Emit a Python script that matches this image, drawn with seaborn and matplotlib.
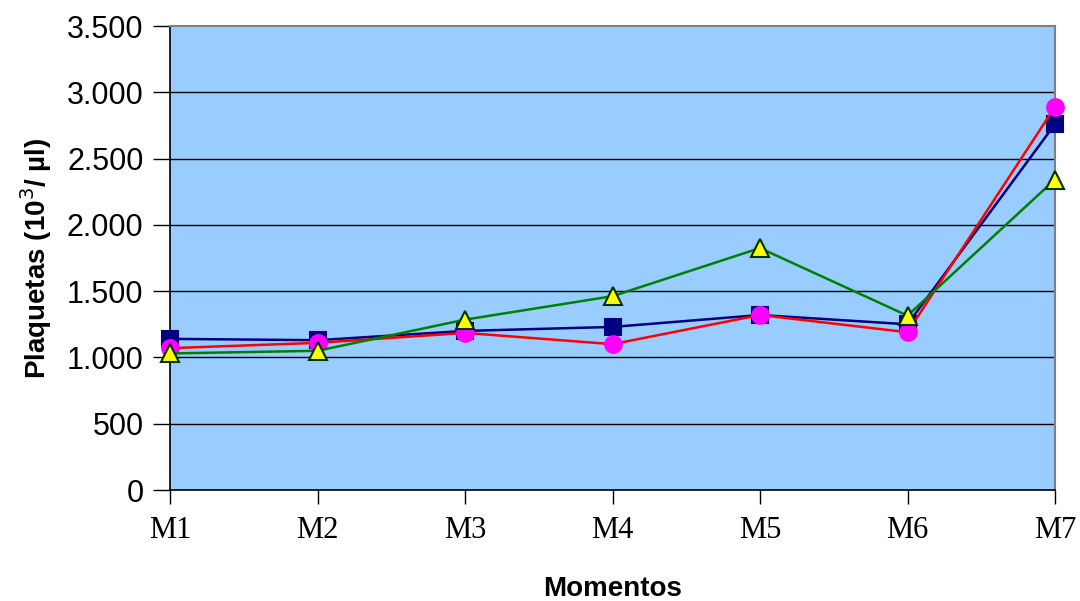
import matplotlib
matplotlib.use("Agg")
import matplotlib.pyplot as plt
import seaborn as sns
import pandas as pd
from matplotlib.ticker import FuncFormatter

# Platelet counts (10^3/µl) per moment for three groups
momentos = ["M1", "M2", "M3", "M4", "M5", "M6", "M7"]
grupo_a = [1140, 1130, 1200, 1230, 1320, 1250, 2760]   # navy squares
grupo_b = [1070, 1110, 1185, 1100, 1320, 1190, 2890]   # red line, magenta circles
grupo_c = [1030, 1050, 1285, 1462, 1825, 1315, 2342]   # green line, yellow triangles

y_ticks = [0, 500, 1000, 1500, 2000, 2500, 3000, 3500]

sns.set_theme(style="white")
plt.rcParams["font.family"] = ["Liberation Sans", "DejaVu Sans"]
plt.rcParams["text.color"] = "black"
plt.rcParams["axes.labelcolor"] = "black"

fig = plt.figure(figsize=(10.8, 6.01), dpi=100)
ax = fig.add_axes([170 / 1080, 1 - 490 / 601, 885 / 1080, 464 / 601])
ax.set_facecolor("#99CCFF")

x_pos = list(range(len(momentos)))
series = [
    (grupo_a, "#000080", "s", "#000080", "#000080", 11),
    (grupo_b, "#FF0000", "o", "#FF00FF", "#FF00FF", 12),
    (grupo_c, "#008000", "^", "#FFFF00", "#003300", 13),
]
for vals, lc, mk, mfc, mec, ms in series:
    df = pd.DataFrame({"x": x_pos, "y": vals})
    sns.lineplot(data=df, x="x", y="y", ax=ax, color=lc, linewidth=1.8,
                 marker=mk, markersize=ms, markerfacecolor=mfc,
                 markeredgecolor=mec, markeredgewidth=1.5, clip_on=False,
                 zorder=3)

ax.set_xlim(0, len(momentos) - 1)
ax.set_ylim(0, 3500)
ax.set_yticks(y_ticks)
ax.yaxis.set_major_formatter(FuncFormatter(lambda v, p: f"{int(v):,}".replace(",", ".")))
ax.set_xticks(x_pos)
ax.set_xticklabels(momentos, fontfamily="Liberation Serif", fontsize=22)

for yv in y_ticks[1:-1]:
    ax.axhline(yv, color="black", linewidth=1.0, zorder=1)

ax.tick_params(axis="y", labelsize=22, length=12, width=1, direction="out",
               left=True, pad=7, colors="black")
ax.tick_params(axis="x", length=10, width=1, direction="out", bottom=True,
               pad=9, colors="black")

for side in ["top", "right"]:
    ax.spines[side].set_color("#808080")
    ax.spines[side].set_linewidth(1.5)
for side in ["left", "bottom"]:
    ax.spines[side].set_color("black")
    ax.spines[side].set_linewidth(1.2)

ax.set_ylabel("Plaquetas (10$^3$/ µl)", fontsize=20, fontweight="bold", labelpad=9)
ax.set_xlabel("Momentos", fontsize=20, fontweight="bold", labelpad=22)

fig.savefig("out.png", dpi=100)
